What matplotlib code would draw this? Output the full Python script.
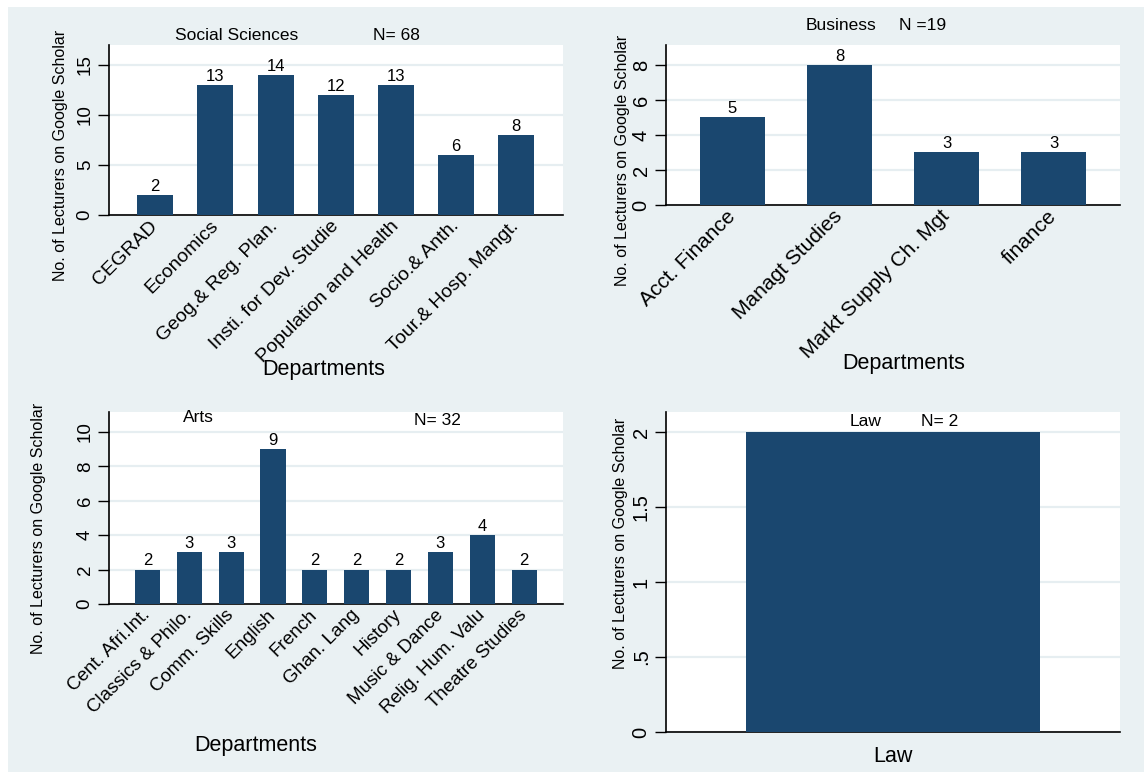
import numpy as np
import matplotlib
matplotlib.use("Agg")
from matplotlib import pyplot as plt
from matplotlib.patches import Rectangle

plt.rcParams['font.family'] = ['Liberation Sans', 'DejaVu Sans']

# data
soc_depts = ['CEGRAD', 'Economics', 'Geog.& Reg. Plan.', 'Insti. for Dev. Studie',
             'Population and Health', 'Socio.& Anth.', 'Tour.& Hosp. Mangt.']
soc_vals = [2, 13, 14, 12, 13, 6, 8]

bus_depts = ['Acct. Finance', 'Managt Studies', 'Markt Supply Ch. Mgt', 'finance']
bus_vals = [5, 8, 3, 3]

arts_depts = ['Cent. Afri.Int.', 'Classics & Philo.', 'Comm. Skills', 'English', 'French',
              'Ghan. Lang', 'History', 'Music & Dance', 'Relig. Hum. Valu', 'Theatre Studies']
arts_vals = [2, 3, 3, 9, 2, 2, 2, 3, 4, 2]

law_depts = ['Law']
law_vals = [2]

ylab = 'No. of Lecturers on Google Scholar'
BAR = '#1A476F'
BG = '#EAF1F3'
GRID = '#E6EEF1'

W, H = 1144, 772
fig = plt.figure(figsize=(W / 100, H / 100), dpi=100)
fig.patch.set_facecolor('white')
fig.patches.append(Rectangle((8 / W, 0), 1 - 8 / W, 1 - 7 / H, transform=fig.transFigure,
                             facecolor=BG, edgecolor='none', zorder=-10))


def box(l, t, r, b):
    return [l / W, 1 - b / H, (r - l) / W, (b - t) / H]


def ftext(x, y, s, **kw):
    fig.text(x / W, 1 - y / H, s, ha='center', va='center', **kw)


def style(ax, yticks, ylim, yticklabels=None, tsize=13.5):
    ax.set_facecolor('white')
    for s in ['top', 'right']:
        ax.spines[s].set_visible(False)
    for s in ['left', 'bottom']:
        ax.spines[s].set_linewidth(1.2)
    ax.set_ylim(*ylim)
    ax.set_yticks(yticks)
    if yticklabels is not None:
        ax.set_yticklabels(yticklabels)
    ax.tick_params(axis='y', length=8, width=1.0, labelsize=tsize, pad=3)
    for lab in ax.get_yticklabels():
        lab.set_rotation(90)
        lab.set_va('center')
    ax.tick_params(axis='x', length=0)
    ax.grid(axis='y', color=GRID, lw=1.6)
    ax.set_axisbelow(True)


def bars(ax, names, vals, width, xlim, labels=True, rot=45, fs=15):
    x = np.arange(len(names))
    b = ax.bar(x, vals, width=width, color=BAR, zorder=3)
    ax.set_xlim(*xlim)
    ax.set_xticks(x)
    if rot:
        ax.set_xticklabels(names, rotation=rot, ha='right', va='center',
                           rotation_mode='anchor', fontsize=fs)
    else:
        ax.set_xticklabels(names, fontsize=fs)
    if labels:
        ax.bar_label(b, padding=1, fontsize=12)
    return b


# Social Sciences
ax1 = fig.add_axes(box(109, 45, 563, 215))
bars(ax1, soc_depts, soc_vals, 0.6, (-0.77, 6.78), fs=14)
style(ax1, [0, 5, 10, 15], (0, 17))
ax1.tick_params(axis='x', pad=6)
ftext(61, 155, ylab, rotation=90, fontsize=11.5)
ftext(324, 370, 'Departments', fontsize=15.5)
ftext(237, 36, 'Social Sciences', fontsize=12.5)
ftext(396, 36, 'N= 68', fontsize=12.5)

# Business
ax2 = fig.add_axes(box(666, 45, 1120, 205))
bars(ax2, bus_depts, bus_vals, 0.6, (-0.62, 3.62), fs=15)
style(ax2, [0, 2, 4, 6, 8], (0, 9.14), tsize=14.5)
ax2.tick_params(axis='x', pad=6)
ftext(622, 160, ylab, rotation=90, fontsize=11.5)
ftext(904, 363, 'Departments', fontsize=15.5)
ftext(841, 25, 'Business', fontsize=12.5)
ftext(923, 25, 'N =19', fontsize=12.5)

# Arts
ax3 = fig.add_axes(box(109, 412, 563, 604))
bars(ax3, arts_depts, arts_vals, 0.6, (-0.92, 9.93), fs=13.5)
style(ax3, [0, 2, 4, 6, 8, 10], (0, 11.16))
ax3.tick_params(axis='x', pad=6)
ftext(39, 528, ylab, rotation=90, fontsize=11.5)
ftext(256, 745, 'Departments', fontsize=15.5)
ftext(198, 417, 'Arts', fontsize=12.5)
ftext(437, 420, 'N= 32', fontsize=12.5)

# Law
ax4 = fig.add_axes(box(666, 412, 1120, 732))
bars(ax4, law_depts, law_vals, 0.6465, (-0.5, 0.5), labels=False, rot=0, fs=15.5)
style(ax4, [0, 0.5, 1, 1.5, 2], (0, 2.133), ['0', '.5', '1', '1.5', '2'], tsize=14.5)
ax4.tick_params(axis='x', pad=10)
ftext(621, 543, ylab, rotation=90, fontsize=11.5)
ftext(866, 421, 'Law', fontsize=12.5)
ftext(940, 421, 'N= 2', fontsize=12.5)

fig.savefig('out.png', dpi=100)
